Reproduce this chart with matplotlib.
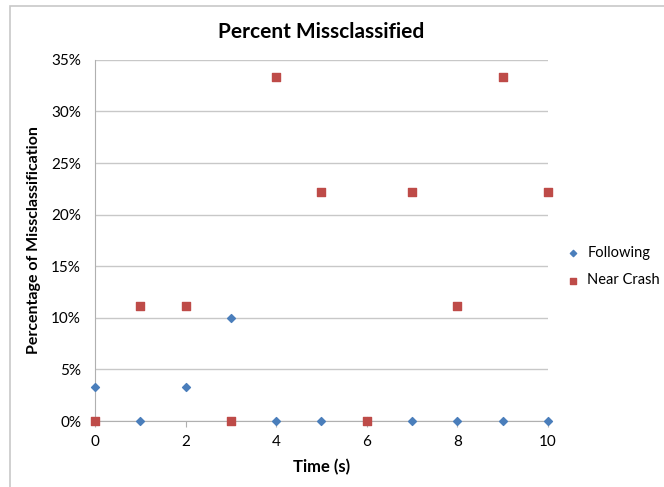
import matplotlib.pyplot as plt
from matplotlib.patches import Rectangle
from matplotlib.ticker import FuncFormatter

# dados
tempo = [0, 1, 2, 3, 4, 5, 6, 7, 8, 9, 10]
following = [3.33, 0, 3.33, 10.0, 0, 0, 0, 0, 0, 0, 0]
near_crash = [0, 11.1, 11.1, 0, 33.3, 22.2, 0, 22.2, 11.1, 33.3, 22.2]

plt.rcParams['font.family'] = ['Lato', 'DejaVu Sans']

fig = plt.figure(figsize=(6.64, 4.87), dpi=100)
ax = fig.add_axes([0.143, 0.1355, 0.682, 0.7415])

# moldura do gráfico
fig.patches.append(Rectangle((0.015, -0.01), 1.2, 0.997, transform=fig.transFigure,
                             fill=False, edgecolor='#c8c8c8', linewidth=1.2))

ax.scatter(tempo, following, marker='D', s=16, color='#4a7ebb', label='Following',
           zorder=3, clip_on=False)
ax.scatter(tempo, near_crash, marker='s', s=30, color='#be4b48', label='Near Crash',
           zorder=3, clip_on=False)

ax.set_xlim(0, 10)
ax.set_ylim(0, 35)
ax.set_xticks([0, 2, 4, 6, 8, 10])
ax.set_yticks(range(0, 36, 5))
ax.yaxis.set_major_formatter(FuncFormatter(lambda v, p: f'{v:.0f}%'))
ax.grid(axis='y', color='#c8c8c8', linewidth=1)
ax.set_axisbelow(True)

for s in ['top', 'right']:
    ax.spines[s].set_visible(False)
ax.spines['left'].set_color('#b0b0b0')
ax.spines['bottom'].set_color('#b0b0b0')
ax.tick_params(axis='y', length=0, labelsize=11, pad=10)
ax.tick_params(axis='x', length=4, color='#b0b0b0', labelsize=11, pad=6)

ax.set_title('Percent Missclassified', fontsize=15, fontweight='bold', pad=16)
ax.set_xlabel('Time (s)', fontsize=12, fontweight='bold', labelpad=7)
ax.set_ylabel('Percentage of Missclassification', fontsize=11.5, fontweight='bold')
ax.yaxis.set_label_coords(-0.12, 0.5)

ax.legend(loc='center left', bbox_to_anchor=(1.0, 0.427), frameon=False, fontsize=10.5,
          handletextpad=0.0, markerscale=0.8, labelspacing=0.9, borderaxespad=0.3)

fig.savefig('out.png', dpi=100)
